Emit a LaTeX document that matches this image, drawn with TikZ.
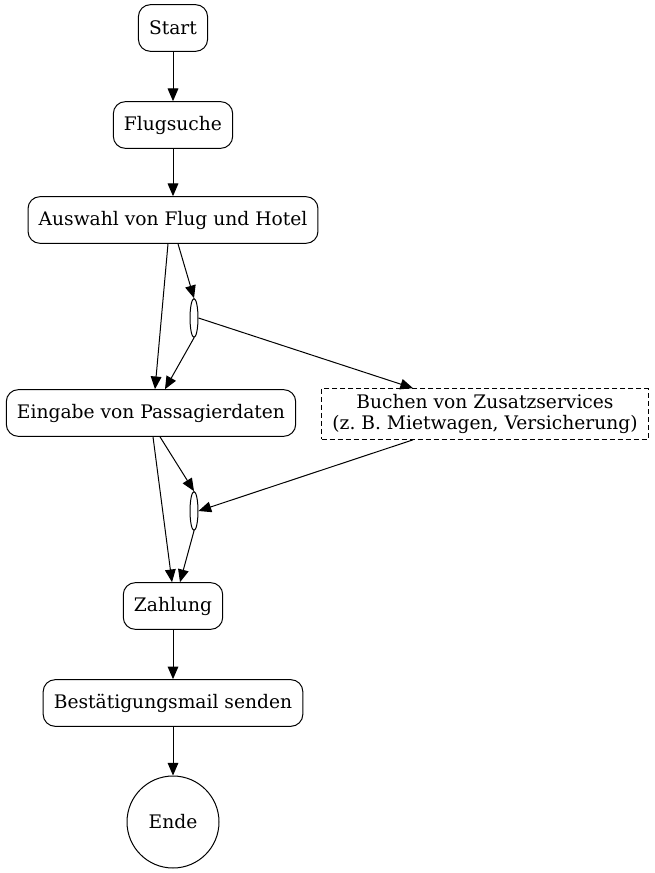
\documentclass[tikz,border=0pt]{standalone}
\usepackage{fontspec}
\setmainfont{DejaVu Serif}
\usetikzlibrary{shapes.geometric,arrows.meta}

\tikzset{
  stepbox/.style={draw, rounded corners=9pt, minimum height=35pt, inner xsep=8pt},
  optbox/.style={draw, dash pattern=on 3.75pt off 2.25pt, minimum height=38pt, inner xsep=8pt, align=center},
  fork/.style={draw, ellipse, inner sep=0pt, minimum width=6pt, minimum height=29pt},
  flow/.style={-{Triangle[length=9.5pt,width=8pt]}}
}

\begin{document}
\begin{tikzpicture}[x=0.75pt, y=-0.75pt, line width=0.75pt, font=\fontsize{14}{15.5}\selectfont]
  \useasboundingbox (0,0) rectangle (655,873);

  \node[stepbox]          (start)   at (173, 28) {Start};
  \node[stepbox]          (suche)   at (173,125) {Flugsuche};
  \node[stepbox]          (auswahl) at (173,220) {Auswahl von Flug und Hotel};
  \node[fork]             (gabelA)  at (194,318) {};
  \node[stepbox]          (eingabe) at (151,413) {Eingabe von Passagierdaten};
  \node[optbox]           (extras)  at (485,414) {Buchen von Zusatzservices\\(z.\ B. Mietwagen, Versicherung)};
  \node[fork]             (gabelB)  at (194,511) {};
  \node[stepbox]          (zahlung) at (173,606) {Zahlung};
  \node[stepbox]          (mail)    at (173,703) {Bestätigungsmail senden};
  \node[draw, circle, minimum size=69pt, inner sep=0pt]
                          (ende)    at (173,822) {Ende};

  \draw[flow] (start)   -- (suche);
  \draw[flow] (suche)   -- (auswahl);
  \draw[flow] ([xshift=-3.75pt]auswahl.south) -- ([xshift=3pt]eingabe.north);
  \draw[flow] ([xshift=3.75pt]auswahl.south)  -- (gabelA.north);
  \draw[flow] (gabelA.south) -- ([xshift=10.5pt]eingabe.north);
  \draw[flow] (gabelA.east)  -- ([xshift=-54pt]extras.north);
  \draw[flow] ([xshift=1.5pt]eingabe.south)   -- ([xshift=-0.75pt]zahlung.north);
  \draw[flow] ([xshift=6.75pt]eingabe.south)  -- (gabelB.north);
  \draw[flow] ([xshift=-54pt]extras.south)    -- (gabelB.east);
  \draw[flow] (gabelB.south) -- ([xshift=5.25pt]zahlung.north);
  \draw[flow] (zahlung) -- (mail);
  \draw[flow] (mail)    -- (ende);
\end{tikzpicture}
\end{document}
